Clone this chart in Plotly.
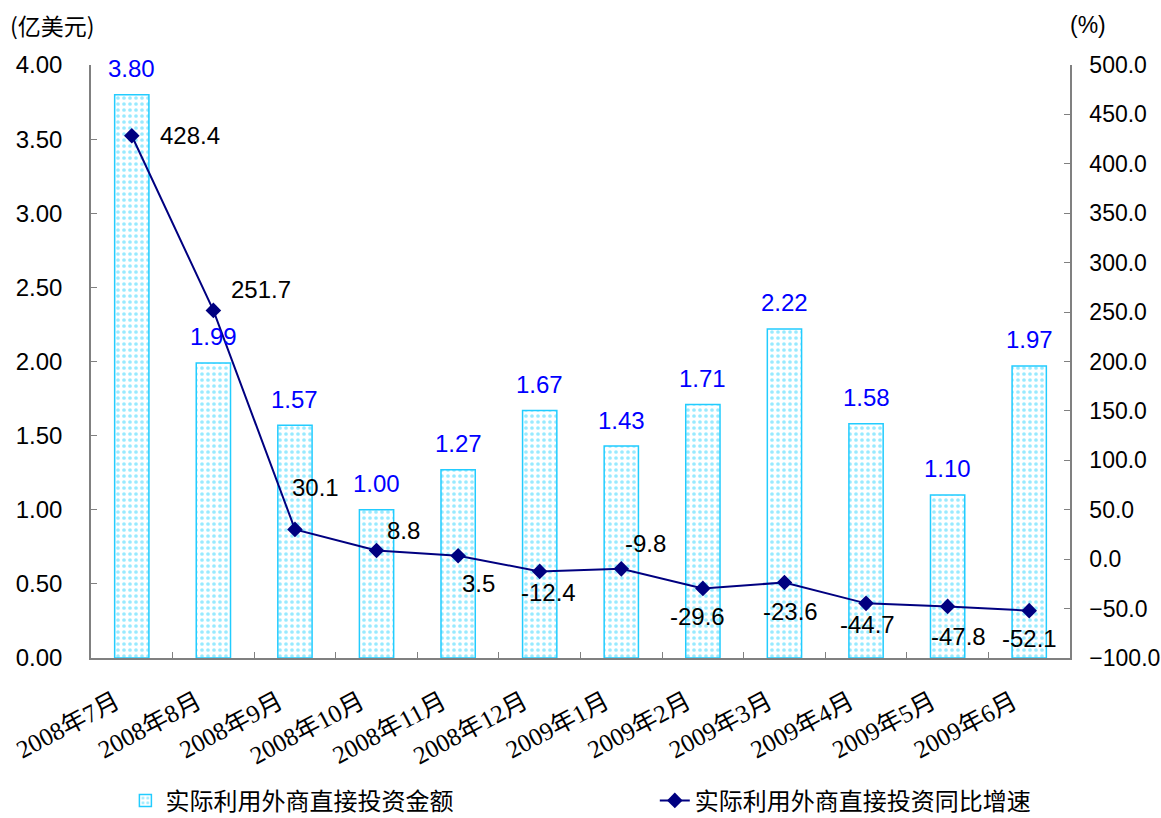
import plotly.graph_objects as go

months = ["2008年7月", "2008年8月", "2008年9月", "2008年10月", "2008年11月", "2008年12月",
          "2009年1月", "2009年2月", "2009年3月", "2009年4月", "2009年5月", "2009年6月"]
amount = [3.80, 1.99, 1.57, 1.00, 1.27, 1.67, 1.43, 1.71, 2.22, 1.58, 1.10, 1.97]
growth = [428.4, 251.7, 30.1, 8.8, 3.5, -12.4, -9.8, -29.6, -23.6, -44.7, -47.8, -52.1]
# label offsets (pixels, +dy = down) for growth labels
gx = [58, 48, 21, 27, 20, 9, 24, -5, 6, 1, 11, 0]
gy = [0, -21, -42, -20, 28, 21, -25, 28, 29, 21, 30, 28]

NUMFONT = "Liberation Sans, Arial"

fig = go.Figure()
fig.add_trace(go.Bar(
    x=months, y=amount, name="实际利用外商直接投资金额", legend="legend",
    marker=dict(color="white", line=dict(color="#22CCFF", width=1.5),
                pattern=dict(shape=".", fgcolor="#33D6FF", bgcolor="white", size=6, solidity=0.3)),
    width=0.42,
))
fig.add_trace(go.Scatter(
    x=months, y=growth, name="实际利用外商直接投资同比增速", yaxis="y2", legend="legend2",
    mode="lines+markers",
    line=dict(color="#000080", width=2),
    marker=dict(symbol="diamond", size=12, color="#000080"),
))
for m, v in zip(months, amount):
    fig.add_annotation(x=m, y=v, text=f"{v:.2f}", showarrow=False, yshift=26,
                       font=dict(size=24, color="#0000FF", family=NUMFONT))
for m, v, dx, dy in zip(months, growth, gx, gy):
    fig.add_annotation(x=m, y=v, yref="y2", text=f"{v:.1f}", showarrow=False,
                       xshift=dx, yshift=-dy,
                       font=dict(size=24, color="black", family=NUMFONT))

fig.add_annotation(xref="paper", yref="paper", x=-0.085, y=1.067, xanchor="left", yanchor="middle",
                   text="(亿美元)", showarrow=False,
                   font=dict(size=23, color="black", family="Noto Sans CJK SC"))
fig.add_annotation(xref="paper", yref="paper", x=1.0, y=1.067, xanchor="left", yanchor="middle",
                   xshift=-2, text="(%)", showarrow=False,
                   font=dict(size=23, color="black", family=NUMFONT))

legfont = dict(size=24, family="Noto Sans CJK SC", color="black")
fig.update_layout(
    width=1161, height=818,
    margin=dict(l=91, r=91, t=65, b=160),
    plot_bgcolor="white", paper_bgcolor="white",
    showlegend=True,
    legend=dict(orientation="h", xref="container", yref="container",
                x=0.108, xanchor="left", y=0.021, yanchor="middle", font=legfont),
    legend2=dict(orientation="h", xref="container", yref="container",
                 x=0.564, xanchor="left", y=0.021, yanchor="middle", font=legfont),
    xaxis=dict(showline=True, linecolor="#808080", linewidth=1.5, ticks="inside", ticklen=6,
               tickcolor="#808080", tickson="boundaries", automargin=False,
               ticklabelstandoff=18, ticklabelshift=-16,
               tickangle=-28, tickfont=dict(size=25, family="Liberation Serif, Noto Sans CJK SC", color="black"),
               range=[-0.5, 11.5]),
    yaxis=dict(range=[0, 4], dtick=0.5, tickformat=".2f", showgrid=False, zeroline=False,
               showline=True, linecolor="#808080", linewidth=1.5, ticks="inside", ticklen=6,
               tickcolor="#808080", ticklabelstandoff=22, automargin=False,
               tickfont=dict(size=24, family=NUMFONT, color="black")),
    yaxis2=dict(range=[-100, 500], dtick=50, tickformat=".1f", overlaying="y", side="right",
                showgrid=False, zeroline=False, showline=True, linecolor="#808080", linewidth=1.5,
                ticks="inside", ticklen=6, tickcolor="#808080", ticklabelstandoff=13, automargin=False,
                tickfont=dict(size=23, family=NUMFONT, color="black")),
)
fig.write_html("out.html", config={"displayModeBar": False},
               post_script="document.body.style.margin='0';document.body.style.overflow='hidden';")
